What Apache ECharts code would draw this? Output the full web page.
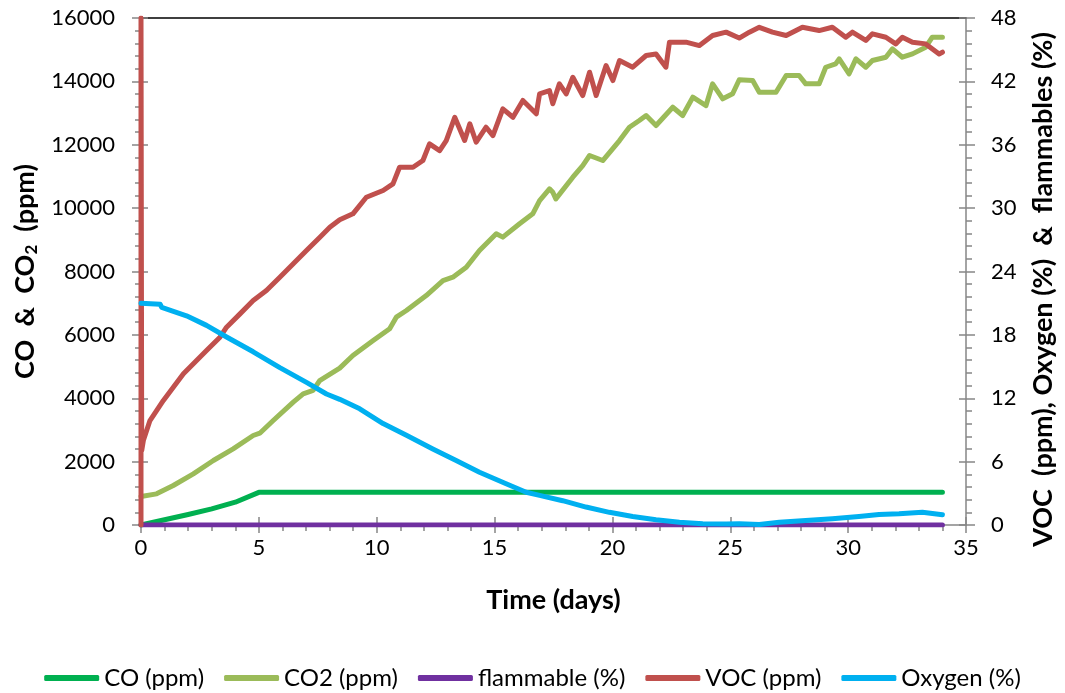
<!DOCTYPE html>
<html><head><meta charset="utf-8">
<script src="https://cdn.jsdelivr.net/npm/echarts@6/dist/echarts.min.js"></script>
<style>html,body{margin:0;padding:0;background:#fff}#c{width:1065px;height:693px}</style>
</head><body><div id="c"></div>
<script>
// ---- axis scales ----
const timeMax = 35, timeStep = 5;
const leftMax = 16000, leftStep = 2000;
const rightMax = 48, rightStep = 6;

// ---- series names ----
const seriesNames = ['CO (ppm)', 'CO2 (ppm)', 'flammable (%)', 'VOC (ppm)', 'Oxygen (%)'];

// ---- CO (ppm), left axis ----
const coTime = [0, 1, 2, 3, 4, 5, 34];
const coVal  = [0, 165, 330, 510, 720, 1030, 1030];

// ---- CO2 (ppm), left axis ----
const co2Time = [0, 0.66, 1.37, 2.22, 3.07, 3.91, 4.76, 5.04, 5.61, 6.46, 6.88, 7.3, 7.58, 8.43, 8.99, 9.85, 10.55, 10.83, 11.26, 12.1, 12.81, 13.23, 13.8, 14.36, 15.07, 15.35, 16.06, 16.62, 16.91, 17.33, 17.47, 17.6, 18.32, 18.74, 19.03, 19.59, 20.3, 20.72, 21.14, 21.43, 21.85, 22.56, 22.98, 23.41, 23.97, 24.25, 24.68, 25.1, 25.38, 25.95, 26.23, 26.94, 27.37, 27.92, 28.2, 28.77, 29.05, 29.47, 29.62, 30.04, 30.33, 30.75, 31.03, 31.6, 31.88, 32.3, 32.73, 33.29, 33.57, 34.0];
const co2Val  = [900, 983, 1246, 1615, 2035, 2404, 2824, 2897, 3298, 3875, 4140, 4245, 4560, 4950, 5349, 5822, 6191, 6558, 6769, 7242, 7715, 7820, 8136, 8663, 9190, 9085, 9505, 9820, 10240, 10609, 10502, 10292, 10975, 11344, 11660, 11502, 12133, 12553, 12765, 12922, 12607, 13184, 12922, 13500, 13237, 13923, 13450, 13608, 14050, 14027, 13657, 13657, 14184, 14184, 13922, 13922, 14446, 14553, 14711, 14238, 14711, 14446, 14658, 14762, 15027, 14762, 14868, 15077, 15393, 15393];

// ---- flammable (%), right axis ----
const flamTime = [0, 34];
const flamVal  = [0, 0];

// ---- VOC, right axis ----
const vocTime = [0, 0, 0.03, 0.1, 0.38, 0.95, 1.8, 2.78, 3.35, 3.63, 4.2, 4.76, 5.32, 5.89, 6.46, 7.02, 7.59, 8.01, 8.43, 8.99, 9.56, 10.27, 10.69, 10.97, 11.54, 11.96, 12.24, 12.67, 12.95, 13.31, 13.73, 13.95, 14.22, 14.64, 14.93, 15.35, 15.78, 16.2, 16.77, 16.91, 17.33, 17.47, 17.75, 18.04, 18.32, 18.74, 19.03, 19.31, 19.73, 20.02, 20.3, 20.86, 21.43, 21.85, 22.27, 22.42, 23.12, 23.69, 24.25, 24.82, 25.38, 25.81, 26.23, 26.79, 27.37, 28.06, 28.77, 29.33, 29.9, 30.18, 30.75, 31.03, 31.6, 32.02, 32.3, 32.73, 33.29, 33.86, 34.0];
const vocVal  = [0, 48, 7.05, 8.0, 9.89, 11.79, 14.31, 16.52, 17.78, 18.73, 19.99, 21.25, 22.2, 23.46, 24.73, 25.99, 27.25, 28.19, 28.9, 29.46, 31.03, 31.67, 32.3, 33.87, 33.87, 34.51, 36.09, 35.45, 36.4, 38.6, 36.4, 37.98, 36.24, 37.66, 36.87, 39.4, 38.6, 40.19, 38.93, 40.82, 41.13, 39.88, 41.77, 40.82, 42.39, 40.66, 42.87, 40.66, 43.5, 42.08, 43.97, 43.34, 44.45, 44.6, 43.34, 45.71, 45.71, 45.39, 46.34, 46.66, 46.1, 46.66, 47.12, 46.66, 46.34, 47.12, 46.81, 47.12, 46.18, 46.66, 45.87, 46.5, 46.18, 45.55, 46.18, 45.71, 45.55, 44.6, 44.76];

// ---- Oxygen (%), right axis ----
const oxyTime = [0, 0.81, 0.88, 1.93, 2.78, 3.63, 4.76, 5.89, 7.02, 7.87, 8.43, 9.28, 10.27, 11.26, 12.38, 13.37, 14.36, 15.49, 16.34, 16.91, 17.89, 18.88, 19.87, 20.86, 21.85, 22.84, 23.83, 24.82, 25.38, 26.23, 27.08, 28.2, 29.33, 30.46, 31.31, 32.16, 33.15, 34.0];
const oxyVal  = [21.0, 20.9, 20.6, 19.8, 18.9, 17.8, 16.4, 14.9, 13.5, 12.4, 11.9, 11.0, 9.6, 8.5, 7.2, 6.1, 5.0, 3.9, 3.1, 2.8, 2.3, 1.7, 1.2, 0.8, 0.5, 0.26, 0.11, 0.1, 0.12, 0.05, 0.26, 0.43, 0.59, 0.8, 1.0, 1.06, 1.2, 0.97];

const colors = ['#00B050', '#9BBB59', '#7030A0', '#C0504D', '#00B0F0'];

function pairs(t, v) { return t.map((x, i) => [x, v[i]]); }

const FONT = 'Lato';
const GRAY = '#868686';
const tickLine = { color: GRAY, width: 1.5 };
const plain = v => String(v);

function mkLine(name, idx, t, v, yIdx) {
  return {
    name: name, type: 'line', xAxisIndex: 0, yAxisIndex: yIdx,
    data: pairs(t, v), showSymbol: false, symbol: 'none',
    lineStyle: { color: colors[idx], width: 5, cap: 'round', join: 'round' },
    itemStyle: { color: colors[idx] },
    animation: false, z: 2 + idx
  };
}

const chart = echarts.init(document.getElementById('c'), null, { renderer: 'canvas' });
chart.setOption({
  animation: false,
  backgroundColor: '#ffffff',
  grid: { left: 141, right: 98, top: 18, bottom: 168 },
  legend: {
    data: seriesNames, left: 'center', top: 661,
    icon: 'roundRect', itemWidth: 55, itemHeight: 6, itemGap: 20,
    textStyle: { fontFamily: FONT, fontSize: 24, color: '#000' }
  },
  xAxis: [
    {
      type: 'value', min: 0, max: timeMax, interval: timeStep, position: 'bottom',
      axisLine: { show: true, onZero: false, lineStyle: { color: GRAY, width: 1.5 } },
      axisTick: { show: true, length: 8, lineStyle: tickLine },
      minorTick: { show: true, splitNumber: 5, length: 6, lineStyle: tickLine },
      splitLine: { show: false },
      axisLabel: { color: '#000', fontSize: 22, fontFamily: FONT, margin: 12, formatter: plain },
      name: 'Time (days)', nameLocation: 'middle', nameGap: 62,
      nameTextStyle: { fontFamily: FONT, fontWeight: 'bold', fontSize: 27, color: '#000' }
    },
    {
      type: 'value', min: 0, max: timeMax, interval: timeStep, position: 'bottom',
      axisLine: { show: false, onZero: false },
      axisTick: { show: true, inside: true, length: 8, lineStyle: tickLine },
      axisLabel: { show: false }, splitLine: { show: false }
    },
    {
      type: 'value', min: 0, max: timeMax, interval: timeStep, position: 'top',
      axisLine: { show: true, onZero: false, lineStyle: { color: '#000', width: 1.5 } },
      axisTick: { show: false }, axisLabel: { show: false }, splitLine: { show: false }
    }
  ],
  yAxis: [
    {
      type: 'value', min: 0, max: leftMax, interval: leftStep, position: 'left',
      axisLine: { show: true, onZero: false, lineStyle: { color: GRAY, width: 1.5 } },
      axisTick: { show: true, length: 9, lineStyle: tickLine },
      minorTick: { show: true, splitNumber: 5, length: 6, lineStyle: tickLine },
      splitLine: { show: false },
      axisLabel: { color: '#000', fontSize: 22, fontFamily: FONT, margin: 26, formatter: plain },
      name: '{a|CO  &  CO}{s|2}{a|  (ppm)}', nameLocation: 'middle', nameGap: 98,
      nameTextStyle: {
        fontFamily: FONT, fontWeight: 'bold', fontSize: 27, color: '#000',
        rich: {
          a: { fontFamily: FONT, fontWeight: 'bold', fontSize: 27, color: '#000' },
          s: { fontFamily: FONT, fontWeight: 'bold', fontSize: 17, color: '#000', padding: [13, 0, 0, 0] }
        }
      }
    },
    {
      type: 'value', min: 0, max: rightMax, interval: rightStep, position: 'right',
      axisLine: { show: true, onZero: false, lineStyle: { color: GRAY, width: 1.5 } },
      axisTick: { show: true, length: 9, lineStyle: tickLine },
      minorTick: { show: true, splitNumber: 5, length: 6, lineStyle: tickLine },
      splitLine: { show: false },
      axisLabel: { color: '#000', fontSize: 22, fontFamily: FONT, margin: 25, formatter: plain },
      name: 'VOC  (ppm), Oxygen (%)  &  flammables (%)', nameLocation: 'middle', nameGap: 64,
      nameTextStyle: { fontFamily: FONT, fontWeight: 'bold', fontSize: 27, color: '#000', padding: [0, 36, 0, 0] }
    },
    {
      type: 'value', min: 0, max: leftMax, interval: leftStep, position: 'left',
      axisLine: { show: false, onZero: false },
      axisTick: { show: true, inside: true, length: 7, lineStyle: tickLine },
      axisLabel: { show: false }, splitLine: { show: false }
    },
    {
      type: 'value', min: 0, max: rightMax, interval: rightStep, position: 'right',
      axisLine: { show: false, onZero: false },
      axisTick: { show: true, inside: true, length: 7, lineStyle: tickLine },
      axisLabel: { show: false }, splitLine: { show: false }
    }
  ],
  series: [
    mkLine(seriesNames[0], 0, coTime, coVal, 0),
    mkLine(seriesNames[1], 1, co2Time, co2Val, 0),
    mkLine(seriesNames[2], 2, flamTime, flamVal, 1),
    mkLine(seriesNames[3], 3, vocTime, vocVal, 1),
    mkLine(seriesNames[4], 4, oxyTime, oxyVal, 1)
  ]
});
</script>
</body></html>
